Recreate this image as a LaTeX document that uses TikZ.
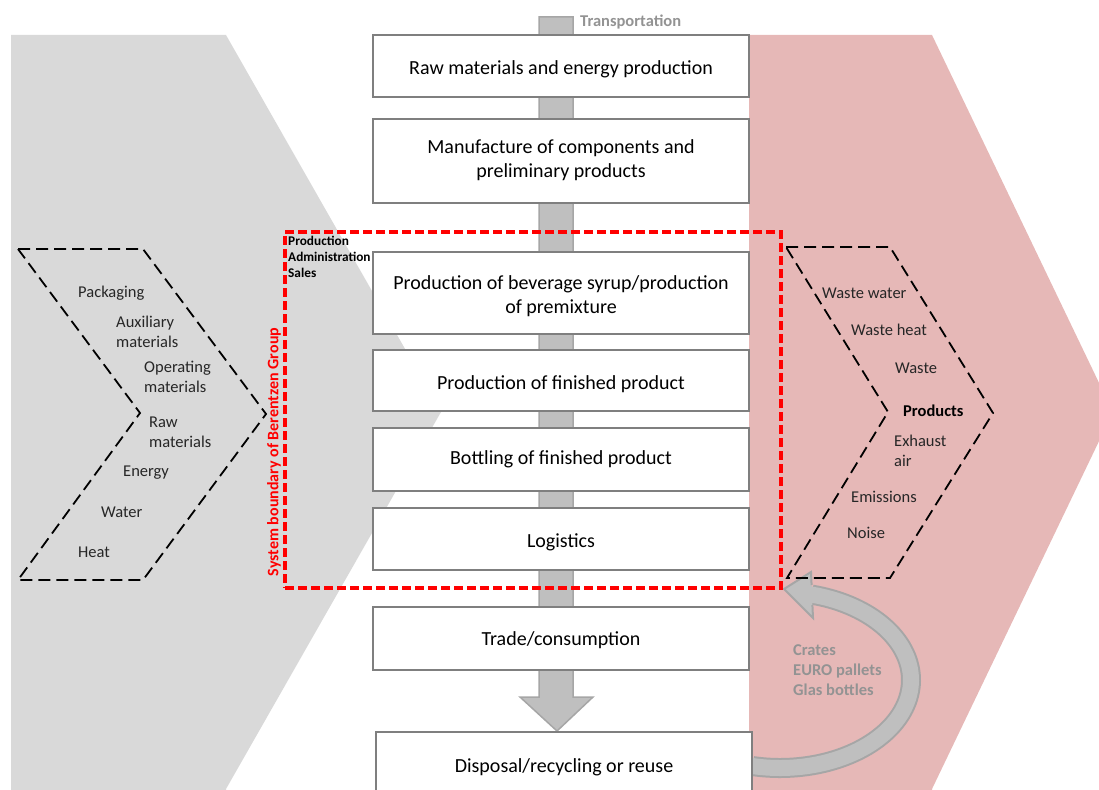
\documentclass[tikz,border=0pt]{standalone}
\usepackage{fontspec}
\setmainfont{Carlito}
\definecolor{bggray}{HTML}{D9D9D9}
\definecolor{bgpink}{HTML}{E6B8B7}
\definecolor{barfill}{HTML}{BFBFBF}
\definecolor{baredge}{HTML}{A6A6A6}
\definecolor{boxedge}{HTML}{7F7F7F}
\definecolor{graytxt}{HTML}{939393}
\definecolor{darktxt}{HTML}{262626}
\definecolor{sysred}{HTML}{FF0000}
\newcommand{\dropby}[2]{\raisebox{-#1}[\height][\depth]{#2}}
\newcommand{\twolines}[2]{\begin{tabular}{@{}c@{}}#1\\#2\end{tabular}}
\begin{document}
\begin{tikzpicture}[x=1pt,y=-1pt,
  stage/.style={draw=boxedge, line width=2pt, fill=white, minimum width=376pt,
    align=center, font=\fontsize{20}{24}\selectfont, text=black, inner sep=0pt},
  flowtxt/.style={anchor=west, align=left, inner sep=0pt,
    font=\fontsize{16.5}{20}\selectfont, text=darktxt},
  graylabel/.style={anchor=west, align=left, inner sep=0pt,
    font=\fontsize{16.5}{20}\selectfont\bfseries, text=graytxt},
  dashchev/.style={draw=black, line width=1.8pt, dash pattern=on 12pt off 6pt, line join=miter},
  redbound/.style={draw=sysred, line width=3.2pt, dash pattern=on 9pt off 4pt, inner sep=0pt},
]
\useasboundingbox (0,0) rectangle (1099,789);
\clip (0,0) rectangle (1099,789);

% background chevrons
\fill[bggray] (11,35) -- (226,35) -- (441,412) -- (226,789) -- (226,800) -- (11,800) -- cycle;
\fill[bgpink] (749,35) -- (932,35) -- (1113,412) -- (932,789) -- (932,800) -- (749,800) -- cycle;

% central transport bar with arrow
\filldraw[fill=barfill, draw=baredge, line width=1.5pt, line join=miter]
  (539,17) -- (573,17) -- (573,697) -- (593,697) -- (557,731) -- (520,697) -- (539,697) -- cycle;
\node[graylabel] (transport) at (580,22) {Transportation};

% stage boxes
\node[stage, minimum height=62pt] (raw) at (561,66) {\dropby{3pt}{Raw materials and energy production}};
\node[stage, minimum height=84pt] (manu) at (561,161) {\twolines{Manufacture of components and}{preliminary products}};
\node[stage, minimum height=82pt] (syrup) at (561,293) {\dropby{4pt}{\twolines{Production of beverage syrup/production}{of premixture}}};
\node[stage, minimum height=61pt] (finished) at (561,380.5) {\dropby{4pt}{Production of finished product}};
\node[stage, minimum height=63pt] (bottling) at (561,459.5) {Bottling of finished product};
\node[stage, minimum height=62pt] (logistics) at (561,539) {\dropby{3pt}{Logistics}};
\node[stage, minimum height=63pt] (trade) at (561,638.5) {\dropby{2pt}{Trade/consumption}};

% curved return arrow
\coordinate (retstart) at (752,766);
\coordinate (retend) at (811.7,594.6);
\draw[line width=20pt, baredge] plot[domain=-102:76, samples=80, smooth] ({780+131*cos(\x)}, {680-88*sin(\x)});
\draw[line width=16pt, barfill] plot[domain=-103:77, samples=80, smooth] ({780+131*cos(\x)}, {680-88*sin(\x)});
\coordinate (headA) at (811,572);
\coordinate (headtip) at (784,589);
\coordinate (headB) at (813,618);
\fill[barfill] (headA) -- (headtip) -- (headB) -- cycle;
\draw[baredge, line width=2pt, line join=miter] (811.6,585) -- (headA) -- (headtip) -- (headB) -- (812.4,605);
\node[graylabel] (crates) at (793,670) {Crates\\EURO pallets\\Glas bottles};

\node[stage, minimum height=66pt] (disposal) at (564,765) {\dropby{2pt}{Disposal/recycling or reuse}};

% system boundary
\node[redbound, minimum width=496pt, minimum height=356pt] (boundary) at (533,410) {};
\node[rotate=90, inner sep=0pt, text=sysred, font=\fontsize{16}{19}\selectfont\bfseries] (systxt) at (274,452) {System boundary of Berentzen Group};
\node[anchor=west, align=left, inner sep=0pt, font=\fontsize{13.3}{16}\selectfont\bfseries, text=black] (units) at (288,257) {Production\\Administration\\Sales};

% input chevron
\draw[dashchev] (18,249) -- (143,249) -- (266,414) -- (143,580) -- (18,580) -- (140,413) -- cycle;
\node[flowtxt] (pack) at (78,293) {Packaging};
\node[flowtxt] (aux) at (116,332) {Auxiliary\\materials};
\node[flowtxt] (oper) at (144,377) {Operating\\materials};
\node[flowtxt] (rawm) at (149,432) {Raw\\materials};
\node[flowtxt] (energy) at (123,473) {Energy};
\node[flowtxt] (water) at (101,512) {Water};
\node[flowtxt] (heat) at (78,552) {Heat};

% output chevron
\draw[dashchev] (786,247) -- (890,247) -- (993,413) -- (890,578) -- (787,578) -- (888,412) -- cycle;
\node[flowtxt] (wwater) at (822,293) {Waste water};
\node[flowtxt] (wheat) at (851,330) {Waste heat};
\node[flowtxt] (waste) at (895,368) {Waste};
\node[flowtxt, font=\fontsize{16.5}{20}\selectfont\bfseries, text=black] (products) at (903,411) {Products};
\node[flowtxt] (exhaust) at (894,451) {Exhaust\\air};
\node[flowtxt] (emis) at (851,497) {Emissions};
\node[flowtxt] (noise) at (847,533) {Noise};
\end{tikzpicture}
\end{document}
